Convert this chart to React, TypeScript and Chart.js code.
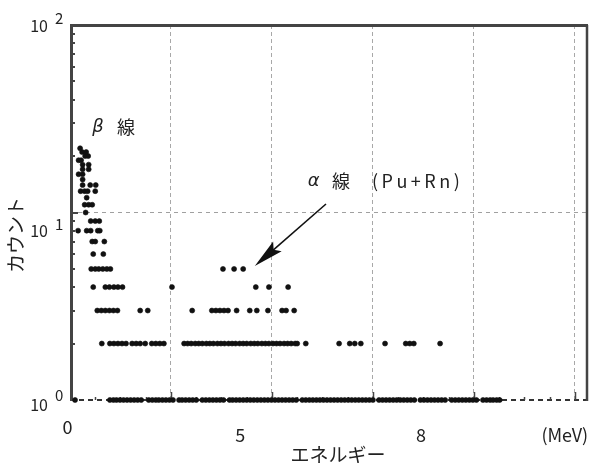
import React, { useEffect, useRef } from 'react';
import { Chart, registerables } from 'chart.js';

Chart.register(...registerables);

// ---- data (x = channel 0..1024, y = counts) ----
const channelsCount1 = [
  10, 79, 86, 92, 99, 106, 113, 120, 127, 134, 141, 156, 163, 170, 176, 183, 190, 197, 204,
  216, 222, 229, 236, 243, 250, 262, 269, 276, 283, 290, 297, 304, 316, 322, 329, 336, 343,
  350, 357, 364, 371, 378, 385, 392, 399, 406, 413, 420, 427, 434, 441, 448, 460, 467, 474,
  481, 488, 495, 502, 509, 516, 523, 530, 537, 544, 551, 558, 565, 572, 579, 586, 593, 600,
  612, 619, 626, 633, 640, 647, 654, 661, 668, 675, 682, 694, 701, 708, 715, 722, 729, 736,
  743, 756, 763, 770, 777, 784, 791, 798, 805, 818, 825, 832, 838, 845, 851,
];
const channelsCount2 = [
  63, 79, 87, 95, 103, 111, 123, 131, 139, 149, 162, 170, 178, 186,
  226, 233, 240, 248, 255, 262, 270, 277, 284, 292, 299, 306, 314, 321, 328, 336, 343, 350,
  358, 365, 372, 380, 387, 394, 402, 409, 416, 424, 431, 438, 446, 450,
  467, 533, 554, 564, 576, 624, 665, 673, 681, 733,
];
const channelsCount3 = [
  54, 62, 70, 78, 86, 94, 139, 154, 242, 281, 289, 297, 305, 313, 330, 356, 370, 392, 420,
  428, 444,
];
const channelsCount4 = [46, 70, 78, 87, 95, 104, 202, 368, 394, 432];
const channelsCount5 = [42, 50, 57, 65, 73, 80, 303, 325, 343];
const betaPeakPoints: [number, number][] = [
  [46, 6], [66, 6],
  [44, 7], [50, 7], [68, 7],
  [16, 8], [33, 8], [41, 8], [55, 8], [59, 8],
  [41, 9], [50, 9], [58, 9],
  [31, 10],
  [29, 11], [37, 11], [44, 11],
  [33, 12],
  [21, 13], [29, 13], [35, 13], [50, 13],
  [25, 14], [40, 14], [51, 14],
  [25, 15],
  [17, 16], [25, 16],
  [25, 17], [37, 17],
  [25, 18], [37, 18],
  [17, 19], [22, 19],
  [30, 20], [36, 20],
  [24, 21], [32, 21],
  [20, 22],
];

const xGridChannels = [200, 400, 600, 800, 1000];
const xTickChannels = [0, 337, 695, 980];
const xTickLabels = ['0', '5', '8', '(MeV)'];
const yTickValues = [100, 10, 1];
const yTickExponents = ['2', '1', '0'];

const JP = '"Noto Sans CJK JP", "Noto Sans", sans-serif';

const allPoints = [
  ...channelsCount1.map((c) => ({ x: c, y: 1 })),
  ...channelsCount2.map((c) => ({ x: c, y: 2 })),
  ...channelsCount3.map((c) => ({ x: c, y: 3 })),
  ...channelsCount4.map((c) => ({ x: c, y: 4 })),
  ...channelsCount5.map((c) => ({ x: c, y: 5 })),
  ...betaPeakPoints.map(([c, v]) => ({ x: c, y: v })),
];

const decorPlugin = {
  id: 'decor',
  beforeDatasetsDraw(chart: any) {
    const { ctx, chartArea: a } = chart;
    const xs = chart.scales.x;
    const ys = chart.scales.y;
    ctx.save();
    // bottom dashed axis
    ctx.strokeStyle = '#333';
    ctx.lineWidth = 2;
    ctx.setLineDash([5, 4]);
    ctx.beginPath();
    ctx.moveTo(a.left, a.bottom);
    ctx.lineTo(a.right, a.bottom);
    ctx.stroke();
    ctx.setLineDash([]);
    // bottom ticks
    ctx.strokeStyle = '#444';
    ctx.lineWidth = 1.5;
    ctx.beginPath();
    for (let c = 50; c < 1024; c += 50) {
      const px = Math.round(xs.getPixelForValue(c)) + 0.5;
      const len = c % 200 === 0 ? 8 : 3;
      ctx.moveTo(px, a.bottom);
      ctx.lineTo(px, a.bottom - len);
    }
    ctx.stroke();
    // left axis
    ctx.strokeStyle = '#444';
    ctx.lineWidth = 3;
    ctx.beginPath();
    ctx.moveTo(a.left + 1.5, a.top);
    ctx.lineTo(a.left + 1.5, a.bottom + 1);
    ctx.stroke();
    // top border
    ctx.beginPath();
    ctx.moveTo(a.left, a.top + 0.5);
    ctx.lineTo(a.right + 1, a.top + 0.5);
    ctx.stroke();
    // right border
    ctx.lineWidth = 2.5;
    ctx.beginPath();
    ctx.moveTo(a.right, a.top);
    ctx.lineTo(a.right, a.bottom + 1);
    ctx.stroke();
    // left log ticks
    ctx.lineWidth = 2;
    ctx.beginPath();
    for (const dec of [1, 10]) {
      for (let m = 2; m <= 9; m++) {
        const py = Math.round(ys.getPixelForValue(dec * m));
        ctx.moveTo(a.left, py);
        ctx.lineTo(a.left + 5, py);
      }
    }
    const p10 = Math.round(ys.getPixelForValue(10));
    ctx.moveTo(a.left, p10);
    ctx.lineTo(a.left + 8, p10);
    ctx.stroke();
    ctx.restore();
  },
  afterDraw(chart: any) {
    const { ctx, chartArea: a } = chart;
    const xs = chart.scales.x;
    const ys = chart.scales.y;
    ctx.save();
    ctx.fillStyle = '#222';
    // x tick labels
    ctx.font = `18px ${JP}`;
    ctx.textAlign = 'center';
    ctx.textBaseline = 'middle';
    xTickChannels.forEach((c, i) => {
      const px = xs.getPixelForValue(c) + (i === 0 ? -2.5 : 0);
      const py = a.bottom + (i === 0 ? 27 : 35);
      ctx.fillText(xTickLabels[i], px, py);
    });
    // y tick labels (10 with superscript exponent)
    const dys = [0.5, 18, 5];
    const sdys = [-7, -6, -10];
    yTickValues.forEach((v, i) => {
      const py = ys.getPixelForValue(v) + dys[i];
      ctx.font = `16px ${JP}`;
      ctx.textAlign = 'right';
      ctx.textBaseline = 'middle';
      ctx.fillText('10', 48, py);
      ctx.font = `15px ${JP}`;
      ctx.textAlign = 'left';
      ctx.fillText(yTickExponents[i], 55, py + sdys[i]);
    });
    // axis titles
    ctx.font = `19px ${JP}`;
    ctx.textAlign = 'center';
    ctx.textBaseline = 'middle';
    ctx.fillText('エネルギー', 338, a.bottom + 55);
    ctx.save();
    ctx.translate(15.5, 235);
    ctx.rotate(-Math.PI / 2);
    ctx.fillText('カウント', 0, 0);
    ctx.restore();

    // annotations
    ctx.textAlign = 'left';
    ctx.textBaseline = 'middle';
    const by = ys.getPixelForValue(28.6);
    ctx.font = `italic 18px "DejaVu Sans", sans-serif`;
    ctx.fillText('β', xs.getPixelForValue(44), by);
    ctx.font = `18px ${JP}`;
    ctx.fillText('線', xs.getPixelForValue(93), by);

    const ay = ys.getPixelForValue(14.7);
    ctx.font = `italic 18px "DejaVu Sans", sans-serif`;
    ctx.fillText('α', xs.getPixelForValue(471), ay);
    ctx.font = `18px ${JP}`;
    ctx.fillText('線', xs.getPixelForValue(519), ay);
    (ctx as any).letterSpacing = '3.5px';
    ctx.fillText('(Pu+Rn)', xs.getPixelForValue(598), ay);
    (ctx as any).letterSpacing = '0px';

    // arrow
    const sx = xs.getPixelForValue(507);
    const sy = ys.getPixelForValue(11.1);
    const tx = xs.getPixelForValue(366);
    const ty = ys.getPixelForValue(5.18);
    const dx = tx - sx;
    const dy = ty - sy;
    const len = Math.hypot(dx, dy);
    const ux = dx / len;
    const uy = dy / len;
    const headLen = 30;
    const headW = 6.5;
    const bx = tx - ux * headLen;
    const byy = ty - uy * headLen;
    ctx.strokeStyle = '#111';
    ctx.lineWidth = 1.6;
    ctx.beginPath();
    ctx.moveTo(sx, sy);
    ctx.lineTo(bx + ux * 6, byy + uy * 6);
    ctx.stroke();
    ctx.fillStyle = '#111';
    ctx.beginPath();
    ctx.moveTo(tx, ty);
    ctx.lineTo(bx - uy * headW, byy + ux * headW);
    ctx.lineTo(bx + ux * 5, byy + uy * 5);
    ctx.lineTo(bx + uy * headW, byy - ux * headW);
    ctx.closePath();
    ctx.fill();
    ctx.restore();
  },
};

export default function App() {
  const ref = useRef<HTMLCanvasElement | null>(null);
  useEffect(() => {
    if (!ref.current) return;
    const chart = new Chart(ref.current, {
      type: 'scatter',
      data: {
        datasets: [
          {
            data: allPoints,
            backgroundColor: '#111',
            borderColor: '#111',
            borderWidth: 0.6,
            pointRadius: 2.5,
            pointHoverRadius: 2.5,
            clip: false as any,
          },
        ],
      },
      options: {
        animation: false,
        responsive: false,
        devicePixelRatio: 1,
        layout: { padding: { left: 70, top: 25, right: 5, bottom: 63 } },
        plugins: { legend: { display: false }, tooltip: { enabled: false } },
        events: [],
        scales: {
          x: {
            type: 'linear',
            min: 0,
            max: 1024,
            ticks: { display: false },
            afterBuildTicks: (s: any) => {
              s.ticks = xGridChannels.map((v) => ({ value: v }));
            },
            grid: { drawTicks: false, color: '#a8a8a8', lineWidth: 1 },
            border: { display: false, dash: [4, 3] },
          },
          y: {
            type: 'logarithmic',
            min: 1,
            max: 100,
            ticks: { display: false },
            afterBuildTicks: (s: any) => {
              s.ticks = [{ value: 10 }];
            },
            grid: { drawTicks: false, color: '#a0a0a0', lineWidth: 1 },
            border: { display: false, dash: [4, 4] },
          },
        },
      },
      plugins: [decorPlugin],
    });
    return () => chart.destroy();
  }, []);
  return (
    <div style={{ position: 'absolute', left: 0, top: 0, width: 592, height: 463, background: '#fff' }}>
      <canvas ref={ref} width={592} height={463} style={{ display: 'block' }} />
    </div>
  );
}
